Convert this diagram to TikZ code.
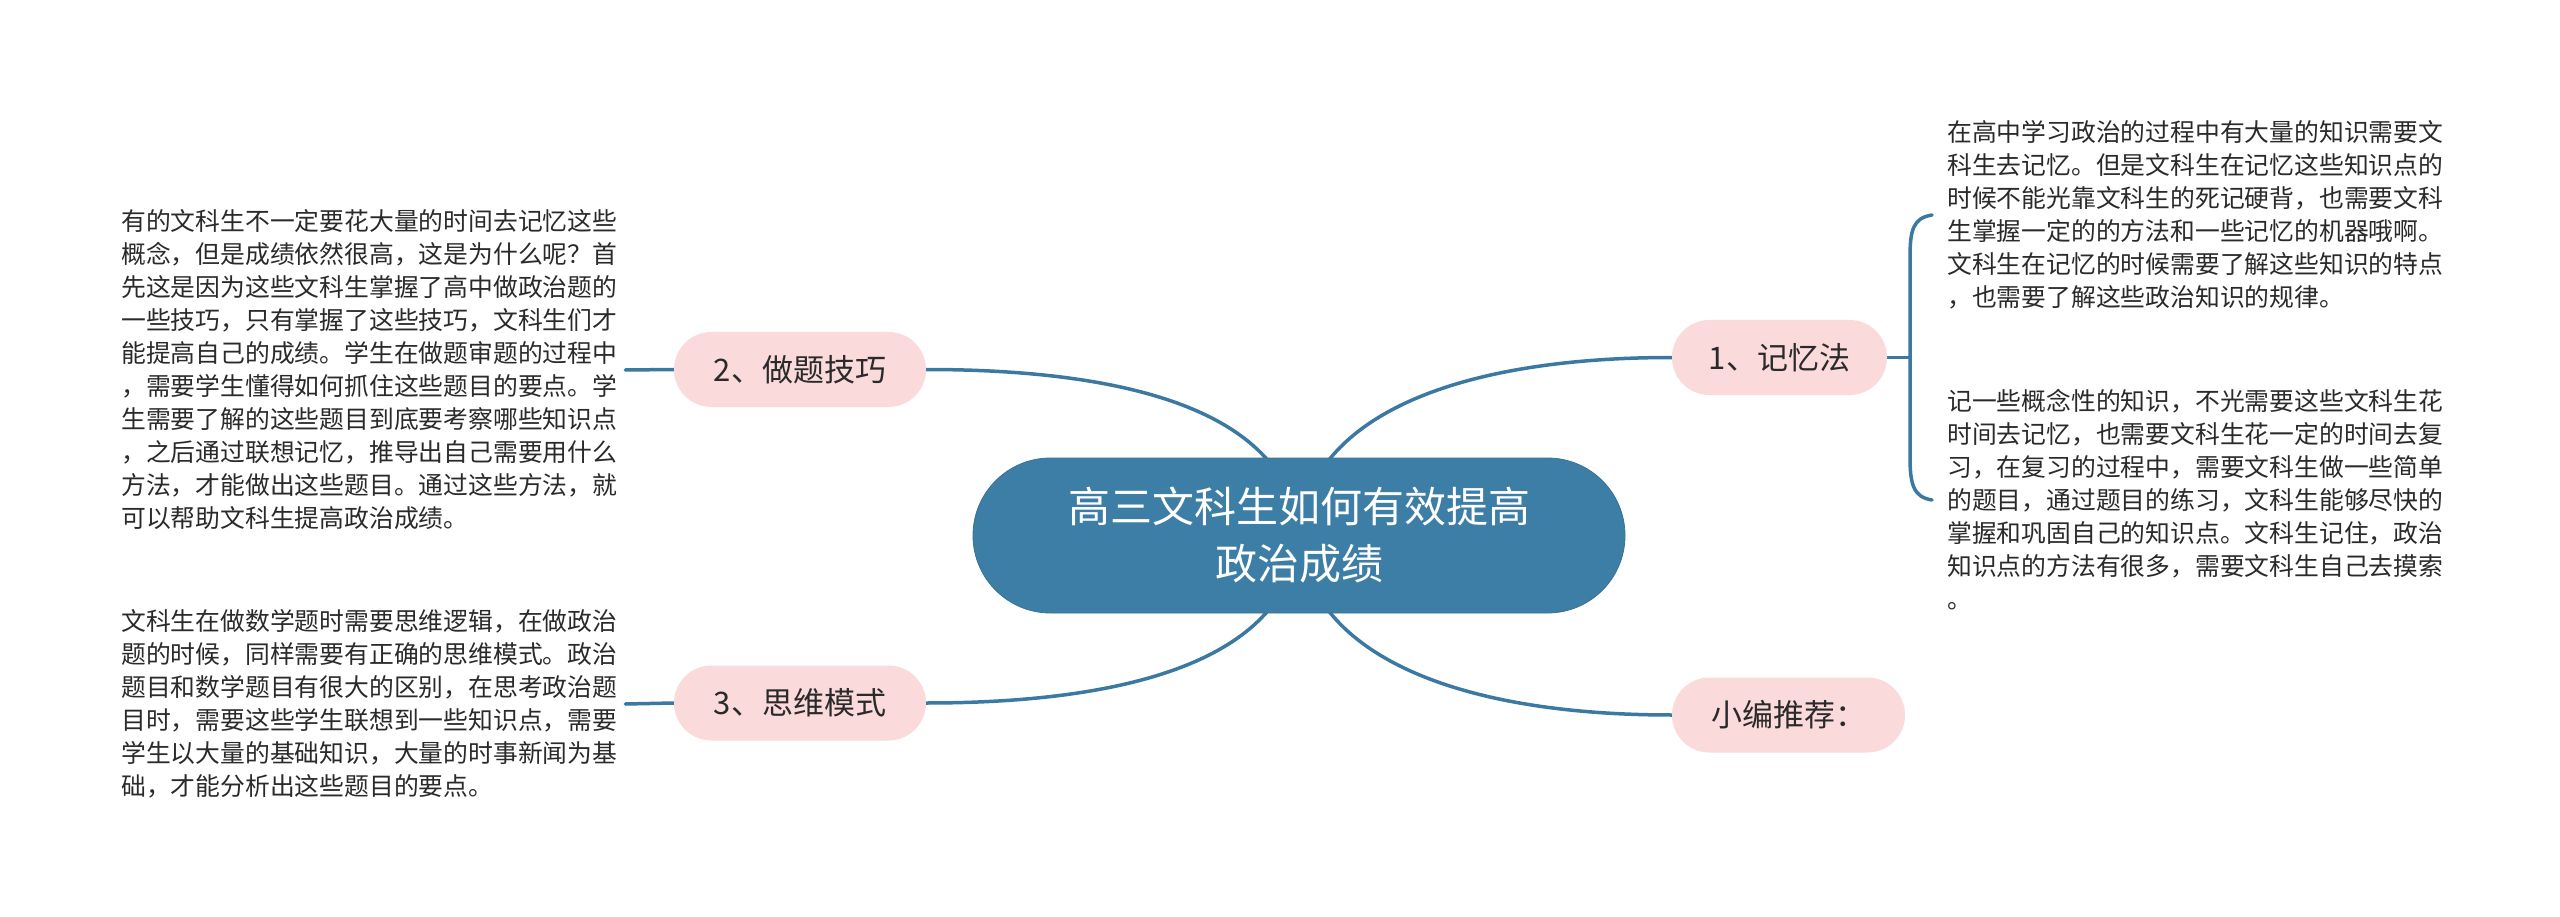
\documentclass[tikz,border=0pt]{standalone}
\usepackage{fontspec}
\setmainfont{Noto Sans CJK SC}
\usetikzlibrary{shapes.misc}
\definecolor{mainblue}{HTML}{3D7EA6}
\definecolor{linkblue}{HTML}{3B79A2}
\definecolor{pinkfill}{HTML}{FADADB}
\definecolor{txt}{HTML}{2A2A2A}
\pgfdeclarelayer{bg}
\pgfsetlayers{bg,main}
\begin{document}
\begin{tikzpicture}[x=1pt,y=-1pt,
  centernode/.style={rounded rectangle, fill=mainblue, draw=mainblue!90!black, line width=0.8pt,
     minimum width=652pt, minimum height=155pt, inner sep=0pt, align=center, text=white,
     font=\fontsize{42}{57}\selectfont},
  branch/.style={rounded rectangle, fill=pinkfill, draw=none, minimum height=75pt, inner sep=0pt,
     text=txt, font=\fontsize{31}{36}\selectfont},
  leaf/.style={align=left, inner xsep=8pt, inner ysep=0pt, text=txt,
     font=\fontsize{24.8}{33}\selectfont},
  conn/.style={draw=linkblue, line width=3.5pt, line cap=round}]
\useasboundingbox (0,0) rectangle (2560,917);

\node[centernode] (c) at (1299,535.5) {高三文科生如何有效提高\\政治成绩};

\node[branch, minimum width=252pt] (n2) at (800,369.5) {2、做题技巧};
\node[branch, minimum width=252pt] (n3) at (800,703) {3、思维模式};
\node[branch, minimum width=215pt] (n1) at (1779.5,357.5) {1、记忆法};
\node[branch, minimum width=233pt] (n4) at (1788.5,715) {小编推荐：};

\node[leaf, anchor=west] (lt1) at (113,370) {有的文科生不一定要花大量的时间去记忆这些\\概念，但是成绩依然很高，这是为什么呢？首\\先这是因为这些文科生掌握了高中做政治题的\\一些技巧，只有掌握了这些技巧，文科生们才\\能提高自己的成绩。学生在做题审题的过程中\\，需要学生懂得如何抓住这些题目的要点。学\\生需要了解的这些题目到底要考察哪些知识点\\，之后通过联想记忆，推导出自己需要用什么\\方法，才能做出这些题目。通过这些方法，就\\可以帮助文科生提高政治成绩。};

\node[leaf, anchor=west] (lt2) at (113,704) {文科生在做数学题时需要思维逻辑，在做政治\\题的时候，同样需要有正确的思维模式。政治\\题目和数学题目有很大的区别，在思考政治题\\目时，需要这些学生联想到一些知识点，需要\\学生以大量的基础知识，大量的时事新闻为基\\础，才能分析出这些题目的要点。};

\node[leaf, anchor=west, inner xsep=15pt] (rt1) at (1932,215) {在高中学习政治的过程中有大量的知识需要文\\科生去记忆。但是文科生在记忆这些知识点的\\时候不能光靠文科生的死记硬背，也需要文科\\生掌握一定的的方法和一些记忆的机器哦啊。\\文科生在记忆的时候需要了解这些知识的特点\\，也需要了解这些政治知识的规律。};

\node[leaf, anchor=west, inner xsep=15pt] (rt2) at (1932,500) {记一些概念性的知识，不光需要这些文科生花\\时间去记忆，也需要文科生花一定的时间去复\\习，在复习的过程中，需要文科生做一些简单\\的题目，通过题目的练习，文科生能够尽快的\\掌握和巩固自己的知识点。文科生记住，政治\\知识点的方法有很多，需要文科生自己去摸索\\。};

\coordinate (J) at (1910,357.5);
\coordinate (bt) at (1910,258);
\coordinate (bb) at (1910,456);

\begin{pgfonlayer}{bg}
\fill[white] (0,0) rectangle (2560,917);
\draw[conn] (c.center) .. controls +(-9,-115) and +(224,0) .. (n2.east);
\draw[conn] (c.center) .. controls +(9,-115) and +(-224,0) .. (n1.west);
\draw[conn] (c.center) .. controls +(-9,115) and +(224,0) .. (n3.east);
\draw[conn] (c.center) .. controls +(9,115) and +(-224,0) .. (n4.west);
\draw[conn] (lt1.east) -- (n2.west);
\draw[conn] (lt2.east) -- (n3.west);
\draw[conn] (n1.east) -- (J);
\draw[conn] (rt1.west) .. controls +(-19,3) and +(0,-28) .. (bt) -- (bb) .. controls +(0,28) and +(-19,-3) .. (rt2.west);
\end{pgfonlayer}
\end{tikzpicture}
\end{document}
